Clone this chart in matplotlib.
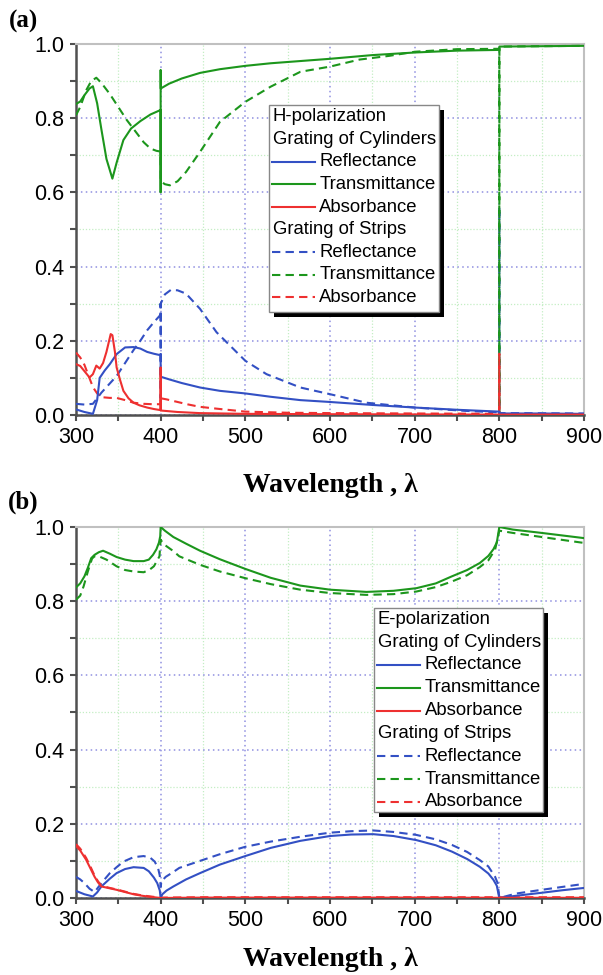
import matplotlib
matplotlib.use("Agg")
import matplotlib.pyplot as plt
from matplotlib.patches import Rectangle
from matplotlib.lines import Line2D
from matplotlib.ticker import MultipleLocator

plt.rcParams['font.family'] = ['Liberation Sans', 'DejaVu Sans']

BLUE = '#3350c4'
GREEN = '#1c961c'
RED = '#ee3030'

# ---- (a) H-polarization ----
h_cyl_R_x = [300, 310, 320, 325, 328, 334, 340, 348, 358, 368, 376, 384, 392, 399.9,
             400.1, 410, 425, 446.5, 470, 500, 530, 565, 600, 650, 700, 750, 799.9, 800.1, 850, 900]
h_cyl_R_y = [0.015, 0.008, 0.003, 0.04, 0.10, 0.12, 0.137, 0.164, 0.182, 0.183, 0.179, 0.170, 0.165, 0.161,
             0.103, 0.096, 0.086, 0.074, 0.065, 0.058, 0.049, 0.040, 0.035, 0.027, 0.020, 0.014, 0.009, 0.004, 0.004, 0.003]

h_cyl_T_x = [300, 305, 310, 316, 320, 325, 330, 336, 343, 348, 356, 365, 376, 388, 399.9, 400, 400, 400.1,
             410, 425, 446.5, 470, 500, 530, 565, 600, 650, 700, 750, 799.9, 800.1, 850, 900]
h_cyl_T_y = [0.838, 0.845, 0.862, 0.880, 0.886, 0.84, 0.77, 0.69, 0.637, 0.68, 0.741, 0.772, 0.792, 0.810, 0.822, 0.60, 0.93, 0.880,
             0.893, 0.907, 0.922, 0.932, 0.941, 0.948, 0.954, 0.960, 0.970, 0.977, 0.982, 0.984, 0.993, 0.994, 0.995]

h_cyl_A_x = [300, 305, 310, 316, 320, 324, 328, 332, 336, 341, 343, 346, 348, 352, 356, 362, 368, 375, 384, 392, 399.9, 400, 400.1,
             420, 446, 500, 600, 700, 799.9, 800.1, 900]
h_cyl_A_y = [0.137, 0.132, 0.118, 0.101, 0.11, 0.133, 0.125, 0.14, 0.17, 0.218, 0.215, 0.17, 0.128, 0.095, 0.065, 0.045, 0.033, 0.026, 0.020, 0.016, 0.013, 0.128, 0.012,
             0.008, 0.005, 0.003, 0.002, 0.0015, 0.001, 0.001, 0.001]

h_str_R_x = [300, 310, 320, 330, 340, 348, 358, 368, 376, 384, 392, 399.9, 400, 400, 400.1, 405, 412, 420, 430, 446.5, 466,
             485, 500, 525, 565, 600, 643, 700, 760, 799.9, 800, 800.1, 900]
h_str_R_y = [0.03, 0.028, 0.03, 0.06, 0.085, 0.105, 0.14, 0.175, 0.20, 0.228, 0.25, 0.27, 0.30, 0.045, 0.30, 0.325, 0.337, 0.336, 0.327, 0.286, 0.223,
             0.18, 0.146, 0.110, 0.074, 0.056, 0.033, 0.020, 0.011, 0.007, 0.56, 0.005, 0.004]

h_str_T_x = [300, 305, 312, 318, 324, 330, 340, 350, 360, 370, 380, 388, 395, 399.9, 400, 400.1, 405, 411, 420, 430, 446.5,
             470, 500, 530, 565, 600, 635, 670, 700, 750, 799.9, 800, 800.1, 850, 900]
h_str_T_y = [0.808, 0.83, 0.875, 0.900, 0.909, 0.895, 0.865, 0.83, 0.795, 0.765, 0.735, 0.718, 0.712, 0.71, 0.64, 0.63, 0.622, 0.619, 0.63, 0.655, 0.709,
             0.79, 0.844, 0.885, 0.925, 0.939, 0.958, 0.968, 0.979, 0.986, 0.987, 0.0, 0.993, 0.994, 0.995]

h_str_A_x = [300, 305, 310, 315, 320, 325, 330, 340, 348, 358, 368, 380, 390, 399.9, 400, 400.1, 407, 420, 431, 446, 466,
             500, 550, 600, 700, 799.9, 800, 800.1, 900]
h_str_A_y = [0.168, 0.155, 0.135, 0.105, 0.075, 0.058, 0.048, 0.046, 0.046, 0.04, 0.033, 0.030, 0.029, 0.029, 0.05, 0.045, 0.042, 0.035, 0.029, 0.022, 0.017,
             0.009, 0.006, 0.005, 0.004, 0.003, 0.165, 0.002, 0.002]

# ---- (b) E-polarization ----
e_cyl_R_x = [300, 310, 320, 325, 330, 340, 348, 358, 368, 380, 386, 392, 396, 399, 400, 402, 407, 415, 430, 446.5, 470, 500,
             530, 565, 600, 625, 651, 675, 702, 725, 744, 762, 777, 787, 793, 797, 800, 820, 850, 875, 900]
e_cyl_R_y = [0.019, 0.01, 0.004, 0.015, 0.031, 0.052, 0.067, 0.078, 0.083, 0.081, 0.072, 0.055, 0.04, 0.02, 0.0, 0.01, 0.02, 0.031, 0.05, 0.067, 0.09, 0.113,
             0.135, 0.154, 0.167, 0.171, 0.172, 0.167, 0.156, 0.142, 0.125, 0.105, 0.084, 0.066, 0.049, 0.033, 0.0, 0.006, 0.014, 0.021, 0.027]

e_cyl_T_x = [300, 305, 310, 314, 318, 322, 327, 332, 340, 348, 358, 368, 380, 386, 391, 395, 398, 399.5, 400, 405, 415, 430,
             446.5, 470, 500, 530, 565, 600, 643, 675, 702, 725, 744, 762, 777, 787, 793, 797, 800, 816, 850, 900]
e_cyl_T_y = [0.837, 0.848, 0.867, 0.89, 0.916, 0.925, 0.932, 0.936, 0.928, 0.919, 0.912, 0.908, 0.908, 0.912, 0.925, 0.94, 0.958, 0.975, 1.0, 0.99, 0.973, 0.955,
             0.936, 0.913, 0.887, 0.863, 0.842, 0.831, 0.825, 0.828, 0.835, 0.848, 0.867, 0.884, 0.903, 0.922, 0.94, 0.958, 1.0, 0.993, 0.984, 0.970]

e_cyl_A_x = [300, 305, 312, 317, 322, 326, 330, 340, 348, 358, 368, 378, 388, 400, 450, 500, 600, 700, 800, 900]
e_cyl_A_y = [0.14, 0.128, 0.103, 0.08, 0.057, 0.042, 0.031, 0.026, 0.022, 0.016, 0.01, 0.006, 0.003, 0.0, 0.001, 0.001, 0.001, 0.001, 0.0005, 0.0005]

e_str_R_x = [300, 305, 310, 316, 322, 330, 340, 348, 356, 368, 380, 388, 393, 397, 399, 400, 401, 406, 415, 422, 446.5, 470,
             500, 530, 565, 600, 625, 651, 675, 702, 725, 744, 762, 777, 787, 795, 798, 800, 820, 850, 875, 900]
e_str_R_y = [0.057, 0.05, 0.04, 0.025, 0.016, 0.04, 0.067, 0.083, 0.098, 0.11, 0.113, 0.108, 0.098, 0.08, 0.06, 0.03, 0.045, 0.057, 0.07, 0.081, 0.10, 0.118,
             0.138, 0.152, 0.165, 0.176, 0.180, 0.182, 0.178, 0.170, 0.158, 0.143, 0.124, 0.102, 0.085, 0.057, 0.04, 0.0, 0.012, 0.022, 0.030, 0.038]

e_str_T_x = [300, 305, 309, 314, 319, 322, 326, 330, 336, 348, 358, 368, 380, 387, 392, 396, 398.6, 400, 403, 407, 415, 422,
             446.5, 470, 500, 530, 565, 600, 643, 675, 702, 725, 744, 762, 777, 787, 795, 800, 816, 850, 900]
e_str_T_y = [0.804, 0.815, 0.84, 0.88, 0.915, 0.921, 0.922, 0.918, 0.912, 0.894, 0.884, 0.880, 0.878, 0.885, 0.894, 0.91, 0.921, 0.966, 0.955, 0.948, 0.935, 0.921,
             0.898, 0.88, 0.862, 0.846, 0.831, 0.822, 0.817, 0.819, 0.826, 0.838, 0.853, 0.870, 0.892, 0.91, 0.939, 0.99, 0.984, 0.973, 0.957]

e_str_A_x = [300, 305, 312, 317, 322, 326, 330, 340, 348, 358, 368, 378, 388, 400, 450, 900]
e_str_A_y = [0.145, 0.133, 0.108, 0.085, 0.06, 0.045, 0.033, 0.027, 0.023, 0.017, 0.011, 0.007, 0.004, 0.001, 0.002, 0.002]

ENTRY_NAMES = ['Reflectance', 'Transmittance', 'Absorbance']
COLORS = [BLUE, GREEN, RED]
DASH = (4, 2.5)
LW = 1.5


def style_axes(ax, labelpad):
    ax.set_xlim(300, 900)
    ax.set_ylim(0, 1.0)
    ax.xaxis.set_major_locator(MultipleLocator(100))
    ax.xaxis.set_minor_locator(MultipleLocator(50))
    ax.yaxis.set_major_locator(MultipleLocator(0.2))
    ax.yaxis.set_minor_locator(MultipleLocator(0.1))
    ax.yaxis.set_major_formatter(plt.FormatStrFormatter('%.1f'))
    ax.grid(which='major', color='#8f8fe0', linestyle=(0, (1, 2.2)), linewidth=1.1)
    ax.grid(which='minor', color='#c4eec4', linestyle=(0, (1, 1.5)), linewidth=0.9)
    ax.set_axisbelow(True)
    for side in ('left', 'bottom'):
        ax.spines[side].set_color('#505050')
        ax.spines[side].set_linewidth(1.8)
    for side in ('top', 'right'):
        ax.spines[side].set_color('#c0c0c0')
        ax.spines[side].set_linewidth(1.5)
    ax.tick_params(which='both', direction='out', length=4.5, width=1.5, color='#505050',
                   top=False, right=False, labelsize=15.5, pad=4)
    ax.set_xlabel('Wavelength , \u03bb', family=['Liberation Serif', 'DejaVu Serif'],
                  fontweight='bold', fontsize=20, labelpad=labelpad)


def draw_key(ax, box, rows_top, step, title):
    # box = (x0, x1, y_bottom, y_top) in axes fraction
    x0, x1, yb, yt = box
    dx, dy = 5 / 508, 5 / 371
    ax.add_patch(Rectangle((x0 + dx, yb - dy), x1 - x0, yt - yb, transform=ax.transAxes,
                           facecolor='black', edgecolor='none', zorder=8, clip_on=False))
    ax.add_patch(Rectangle((x0, yb), x1 - x0, yt - yb, transform=ax.transAxes,
                           facecolor='white', edgecolor='#888888', linewidth=1.0, zorder=9, clip_on=False))
    rows = [(title, None, None), ('Grating of Cylinders', None, None)]
    rows += [(n, c, '-') for n, c in zip(ENTRY_NAMES, COLORS)]
    rows += [('Grating of Strips', None, None)]
    rows += [(n, c, '--') for n, c in zip(ENTRY_NAMES, COLORS)]
    for i, (label, color, ls) in enumerate(rows):
        y = rows_top - i * step
        if color is None:
            ax.text(x0 + 0.007, y, label, transform=ax.transAxes, fontsize=13.3,
                    va='center', ha='left', zorder=10)
        else:
            ln = Line2D([x0 + 0.006, x0 + 0.09], [y, y], transform=ax.transAxes,
                        color=color, lw=LW, zorder=10, clip_on=False)
            if ls == '--':
                ln.set_dashes(DASH)
            ax.add_line(ln)
            ax.text(x0 + 0.099, y, label, transform=ax.transAxes, fontsize=13.3,
                    va='center', ha='left', zorder=10)


def plot_panel(ax, cyl, strips):
    for (x, y), c in zip(strips, COLORS):
        ax.plot(x, y, color=c, lw=LW, dashes=DASH, zorder=3)
    for (x, y), c in zip(cyl, COLORS):
        ax.plot(x, y, color=c, lw=LW, zorder=4)


fig = plt.figure(figsize=(6.03, 9.75), dpi=100)
ax_a = fig.add_axes([0.126, 0.5744, 0.8425, 0.3805])
ax_b = fig.add_axes([0.126, 0.0790, 0.8425, 0.3805])

plot_panel(ax_a,
           [(h_cyl_R_x, h_cyl_R_y), (h_cyl_T_x, h_cyl_T_y), (h_cyl_A_x, h_cyl_A_y)],
           [(h_str_R_x, h_str_R_y), (h_str_T_x, h_str_T_y), (h_str_A_x, h_str_A_y)])
plot_panel(ax_b,
           [(e_cyl_R_x, e_cyl_R_y), (e_cyl_T_x, e_cyl_T_y), (e_cyl_A_x, e_cyl_A_y)],
           [(e_str_R_x, e_str_R_y), (e_str_T_x, e_str_T_y), (e_str_A_x, e_str_A_y)])

style_axes(ax_a, 18)
style_axes(ax_b, 12)

draw_key(ax_a, (0.380, 0.715, 0.278, 0.836), 0.804, 0.0609, 'H-polarization')
draw_key(ax_b, (0.587, 0.919, 0.232, 0.782), 0.751, 0.0615, 'E-polarization')

for lab, ypix in (('(a)', 21), ('(b)', 502)):
    fig.text(23 / 603, 1 - ypix / 975, lab, family=['Liberation Serif', 'DejaVu Serif'],
             fontweight='bold', fontsize=18, ha='center', va='center')

fig.savefig('out.png', dpi=100)
